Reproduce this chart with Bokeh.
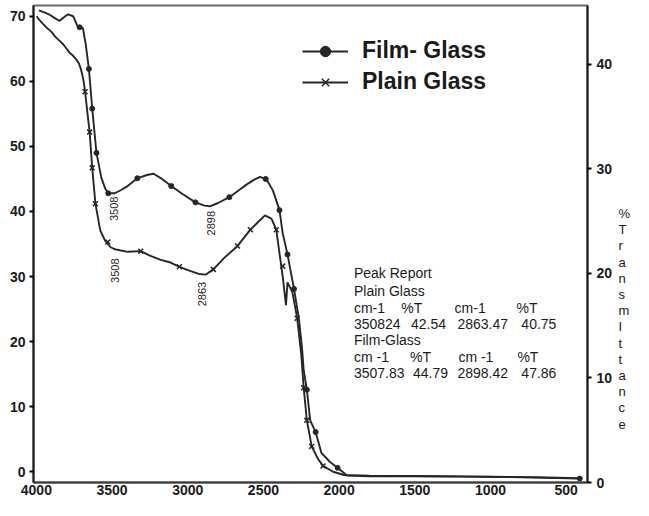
import math
from bokeh.plotting import figure
from bokeh.models import (Range1d, LinearAxis, FixedTicker, Legend, LegendItem, Label)
from bokeh.embed import file_html
from bokeh.resources import INLINE

# ---- data (wavenumber cm-1, %T on left axis) ----
film_x = [3983, 3940, 3910, 3870, 3846, 3820, 3791, 3757, 3725, 3693, 3674, 3653, 3631, 3603,
          3571, 3545, 3525, 3482, 3440, 3397, 3333, 3270, 3226, 3170, 3109, 3030, 2949, 2890,
          2853, 2800, 2725, 2660, 2607, 2560, 2522, 2479, 2437, 2394, 2373, 2341, 2298, 2266,
          2245, 2234, 2213, 2191, 2155, 2117, 2060, 2010, 1946, 1800, 1583, 1200, 944, 700, 410]
film_y = [70.9, 70.5, 70.2, 69.6, 69.3, 69.8, 70.3, 70.0, 68.3, 68.2, 65.7, 61.9, 55.8, 49.0,
          45.2, 43.5, 42.8, 42.8, 43.3, 43.9, 45.1, 45.6, 45.8, 45.0, 43.9, 42.6, 41.4, 40.9,
          40.8, 41.3, 42.2, 43.3, 44.2, 44.9, 45.3, 44.9, 43.2, 40.2, 36.7, 33.4, 28.1, 23.6,
          19.0, 15.6, 12.6, 7.9, 6.1, 2.9, 1.5, 0.6, -0.6, -0.7, -0.7, -0.75, -0.8, -0.9, -1.05]

plain_x = [3998, 3983, 3960, 3930, 3900, 3877, 3850, 3823, 3800, 3781, 3760, 3738, 3720, 3706,
           3690, 3678, 3663, 3648, 3631, 3610, 3578, 3546, 3510, 3482, 3397, 3311, 3250, 3183,
           3120, 3055, 3013, 2927, 2880, 2831, 2757, 2671, 2586, 2530, 2490, 2447, 2415, 2394,
           2373, 2351, 2341, 2309, 2277, 2250, 2234, 2213, 2181, 2140, 2106, 2040, 1967, 1800,
           1500, 1000, 700, 410]
plain_y = [70.0, 69.5, 68.9, 68.2, 67.6, 66.9, 66.3, 65.7, 65.0, 64.4, 64.0, 63.4, 62.8, 61.9,
           60.3, 58.4, 55.2, 52.2, 46.7, 41.2, 37.1, 35.5, 34.5, 34.2, 33.8, 33.9, 33.2, 32.6,
           32.2, 31.5, 31.1, 30.4, 30.3, 31.1, 32.9, 34.7, 37.2, 38.5, 39.4, 38.9, 37.2, 33.6,
           30.1, 25.6, 29.1, 27.6, 23.6, 18.0, 12.9, 7.9, 3.9, 2.0, 0.9, 0.0, -0.5, -0.6,
           -0.65, -0.75, -0.85, -1.0]

film_mk_x = [3714, 3653, 3631, 3603, 3525, 3333, 3109, 2949, 2725, 2485, 2394, 2341, 2298,
             2213, 2155, 2010, 410]
film_mk_y = [68.3, 61.9, 55.8, 49.0, 42.8, 45.1, 43.9, 41.4, 42.2, 45.0, 40.2, 33.4, 28.1,
             12.6, 6.1, 0.6, -1.05]
plain_mk_x = [3678, 3648, 3631, 3610, 3528, 3311, 3055, 2831, 2671, 2586, 2415, 2373, 2277,
              2234, 2213, 2181, 2106]
plain_mk_y = [58.4, 52.2, 46.7, 41.2, 35.3, 33.9, 31.5, 31.1, 34.7, 37.2, 37.2, 31.6, 23.6,
              12.9, 7.9, 3.9, 0.9]

x_ticks = [4000, 3500, 3000, 2500, 2000, 1500, 1000, 500]
left_ticks = [0, 10, 20, 30, 40, 50, 60, 70]
right_ticks = [0, 10, 20, 30, 40]

series_names = ["Film- Glass", "Plain Glass"]
peak_labels = ["3508", "2898", "3508", "2863"]
report_lines = [
    ["Peak Report"],
    ["Plain Glass"],
    ["cm-1", "%T", "cm-1", "%T"],
    ["350824", "42.54", "2863.47", "40.75"],
    ["Film-Glass"],
    ["cm -1", "%T", "cm -1", "%T"],
    ["3507.83", "44.79", "2898.42", "47.86"],
]
right_title = "%TransmIttance"

FONT = "Liberation Sans"
INK = "#262626"
TXT = "#1a1a1a"

p = figure(width=633, height=500, x_range=Range1d(4019, 359), y_range=Range1d(-1.65, 71.65),
           output_backend="svg", toolbar_location=None,
           min_border_left=33, min_border_right=38, min_border_top=5, min_border_bottom=18)
p.extra_y_ranges = {"right": Range1d(0, 45.6), "letters": Range1d(-3.6, 25.84)}
p.xgrid.visible = False
p.ygrid.visible = False
p.outline_line_color = "#6a6a6a"
p.outline_line_width = 2
p.background_fill_color = "white"
p.border_fill_color = "white"


def style_axis(ax, tick_out, standoff):
    ax.major_tick_out = tick_out
    ax.major_tick_in = 0
    ax.major_tick_line_width = 2
    ax.minor_tick_out = 0
    ax.minor_tick_in = 0
    ax.axis_line_width = 2
    ax.axis_line_color = TXT
    ax.major_label_standoff = standoff
    ax.major_label_text_font = FONT
    ax.major_label_text_font_style = "bold"
    ax.major_label_text_font_size = "14px"
    ax.major_label_text_color = TXT


# bottom axis
xa = p.xaxis[0]
xa.ticker = FixedTicker(ticks=x_ticks)
style_axis(xa, 0, 2)
xa.axis_line_color = "#3a3a3a"

# left axis
ya = p.yaxis[0]
ya.ticker = FixedTicker(ticks=left_ticks)
style_axis(ya, 4, 4)

# right axis
ra = LinearAxis(y_range_name="right", ticker=FixedTicker(ticks=right_ticks))
style_axis(ra, 4, 5)
p.add_layout(ra, "right")

# stacked vertical title on the right (one character per line)
letters = list(right_title)
letter_pos = list(range(len(letters) - 1, -1, -1))
ta = LinearAxis(y_range_name="letters", ticker=FixedTicker(ticks=letter_pos),
                major_label_overrides={k: c for k, c in zip(letter_pos, letters)})
ta.axis_line_alpha = 0
ta.major_tick_out = 0
ta.major_tick_in = 0
ta.minor_tick_out = 0
ta.minor_tick_in = 0
ta.major_label_standoff = 3
ta.major_label_text_font = FONT
ta.major_label_text_font_size = "13px"
ta.major_label_text_color = TXT
p.add_layout(ta, "right")

# curves
fl = p.line(film_x, film_y, line_color=INK, line_width=1.9)
fd = p.scatter(film_mk_x, film_mk_y, marker="circle", size=5, fill_color=INK, line_color=INK)
pl = p.line(plain_x, plain_y, line_color=INK, line_width=1.9)
pm = p.scatter(plain_mk_x, plain_mk_y, marker="x", size=7, line_color=INK, line_width=1.5)

legend = Legend(items=[LegendItem(label=series_names[0], renderers=[fl, fd]),
                       LegendItem(label=series_names[1], renderers=[pl, pm])],
                location=(269, 387), glyph_width=46, glyph_height=26, label_height=26,
                spacing=4, padding=0, margin=0, label_standoff=14,
                border_line_alpha=0, background_fill_alpha=0,
                label_text_font=FONT, label_text_font_style="bold",
                label_text_font_size="23px", label_text_color=TXT)
p.add_layout(legend)

# rotated peak labels
peak_pos = [(3488, 40.4), (2848, 38.2), (3482, 30.9), (2906, 27.3)]
for txt, (lx, ly) in zip(peak_labels, peak_pos):
    p.add_layout(Label(x=lx, y=ly, text=txt, angle=math.pi / 2, text_align="center",
                       text_baseline="middle", text_font=FONT, text_font_size="11px",
                       text_color="#222222"))

# peak report text block
row_y = [30.47, 27.85, 25.24, 22.78, 20.32, 17.71, 15.10]
col_x = {
    2: [1902, 1589, 1237, 828],
    3: [1902, 1525, 1218, 796],
    5: [1902, 1531, 1212, 822],
    6: [1902, 1512, 1218, 796],
}
for i, cells in enumerate(report_lines):
    xs = col_x.get(i, [1902])
    for txt, cx in zip(cells, xs):
        p.add_layout(Label(x=cx, y=row_y[i], text=txt, text_align="left",
                           text_baseline="middle", text_font=FONT, text_font_size="14px",
                           text_color=TXT))

open("out.html", "w").write(file_html(p, INLINE))
